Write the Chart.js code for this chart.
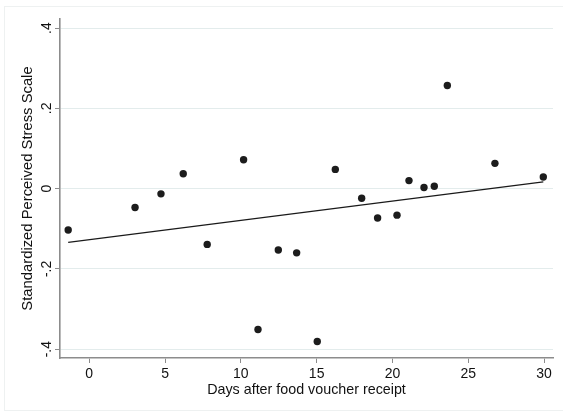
<!DOCTYPE html>
<html>
<head>
<meta charset="utf-8">
<script src="https://cdn.jsdelivr.net/npm/chart.js@4"></script>
<style>
  html, body { margin: 0; padding: 0; background: #fff; }
  #wrap { width: 563px; height: 414px; position: relative; }
</style>
</head>
<body>
<div id="wrap"><canvas id="myChart" width="563" height="414"></canvas></div>
<script>
// Data
const days = [-1.39, 3.02, 4.73, 6.2, 7.78, 10.18, 11.13, 12.47, 13.68, 15.04,
              16.23, 17.97, 19.02, 20.3, 21.09, 22.08, 22.76, 23.62, 26.76, 29.95];
const stress = [-0.103, -0.047, -0.013, 0.037, -0.139, 0.072, -0.351, -0.153, -0.160, -0.381,
                0.048, -0.024, -0.073, -0.066, 0.020, 0.003, 0.006, 0.257, 0.063, 0.029];

// Fitted line end points
const fitX = [-1.39, 29.95];
const fitY = [-0.134, 0.017];

const xTicks = [0, 5, 10, 15, 20, 25, 30];
const yTicks = [-0.4, -0.2, 0, 0.2, 0.4];
const yTickLabels = ['-.4', '-.2', '0', '.2', '.4'];

const FONT = "'Liberation Sans', Arial, Helvetica, sans-serif";
const axisGray = '#8c8c8c';

// Faint outer frame of the graph region
const framePlugin = {
    id: 'frame',
    beforeDraw(chart) {
        const ctx = chart.ctx;
        ctx.save();
        ctx.fillStyle = '#fff';
        ctx.fillRect(0, 0, chart.width, chart.height);
        ctx.strokeStyle = '#eef1f1';
        ctx.lineWidth = 1;
        ctx.strokeRect(4.5, 6.5, 600, 404);
        ctx.restore();
    }
};

const ctx = document.getElementById('myChart').getContext('2d');
const myChart = new Chart(ctx, {
    type: 'scatter',
    data: {
        datasets: [
            {
                label: 'points',
                data: days.map((d, i) => ({ x: d, y: stress[i] })),
                pointRadius: 3.7,
                pointBackgroundColor: '#1c1c1c',
                pointBorderWidth: 0,
                showLine: false
            },
            {
                label: 'fit',
                type: 'line',
                data: fitX.map((d, i) => ({ x: d, y: fitY[i] })),
                borderColor: '#1a1a1a',
                borderWidth: 1.2,
                pointRadius: 0,
                fill: false
            }
        ]
    },
    options: {
        responsive: false,
        animation: false,
        layout: { padding: { top: 19, right: 10, left: 0, bottom: 0 } },
        plugins: {
            legend: { display: false },
            tooltip: { enabled: false }
        },
        scales: {
            x: {
                type: 'linear',
                min: -1.93,
                max: 30.59,
                afterBuildTicks: s => { s.ticks = xTicks.map(v => ({ value: v })); },
                afterFit: s => { s.height = 56; },
                border: { display: true, color: axisGray, width: 1.6 },
                grid: { drawOnChartArea: false, drawTicks: true, tickLength: 5, tickColor: axisGray, tickWidth: 1 },
                ticks: {
                    color: '#111',
                    font: { family: FONT, size: 14 },
                    padding: 3,
                    maxRotation: 0,
                    callback: v => String(v)
                },
                title: {
                    display: true,
                    text: 'Days after food voucher receipt',
                    color: '#111',
                    font: { family: FONT, size: 14.3 },
                    padding: { top: 0, bottom: 15.4 }
                }
            },
            y: {
                type: 'linear',
                min: -0.422,
                max: 0.4227,
                afterBuildTicks: s => { s.ticks = yTicks.map(v => ({ value: v })); },
                afterFit: s => { s.width = 60; },
                border: { display: true, color: axisGray, width: 1.6 },
                grid: { color: '#e3ecec', lineWidth: 1, drawTicks: true, tickLength: 5, tickColor: axisGray, tickWidth: 1 },
                ticks: {
                    color: '#111',
                    font: { family: FONT, size: 14 },
                    padding: 0,
                    minRotation: 90,
                    maxRotation: 90,
                    crossAlign: 'center',
                    callback: (v, i) => yTickLabels[i]
                },
                title: {
                    display: true,
                    text: 'Standardized Perceived Stress Scale',
                    color: '#111',
                    font: { family: FONT, size: 14.8 },
                    padding: { top: 19.1, bottom: 0 }
                }
            }
        }
    },
    plugins: [framePlugin]
});
</script>
</body>
</html>
